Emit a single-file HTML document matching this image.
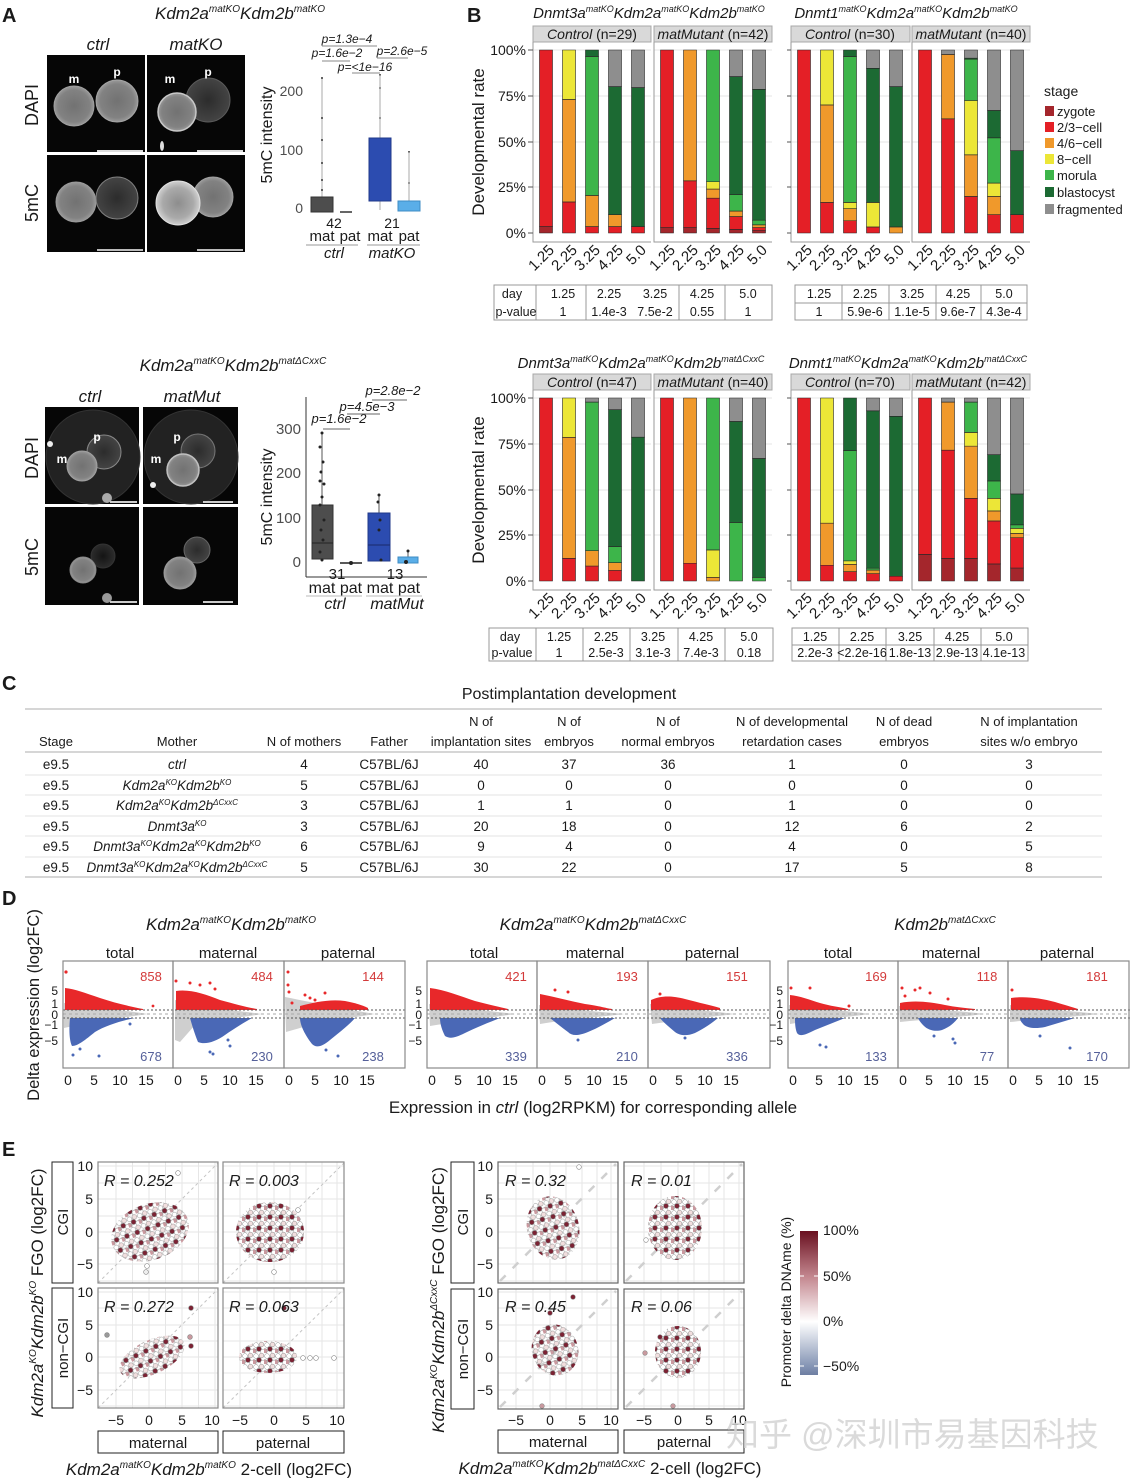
<!DOCTYPE html>
<html><head><meta charset="utf-8">
<style>
html,body{margin:0;padding:0;background:#fff}
svg{display:block}
text{font-family:"Liberation Sans",Arial,sans-serif;fill:#1a1a1a}
.it{font-style:italic}
.tk{fill:#4d4d4d}
.bars rect{stroke:#262626;stroke-width:0.6px;vector-effect:non-scaling-stroke}
.z{fill:#a4262c}.r{fill:#e41f26}.o{fill:#f0992b}.y{fill:#ece637}.lg{fill:#3db54a}.dg{fill:#1c6a33}.gr{fill:#8e8e8e}
.ln{stroke:#9a9a9a;stroke-width:1;fill:none}
.grid{stroke:#e6e6e6;stroke-width:1;fill:none}
.rc{fill:#e8282a}.bc{fill:#4a68b6}.gc{fill:#cfcfcf}
</style></head><body>
<svg width="1130" height="1478" viewBox="0 0 1130 1478" xmlns="http://www.w3.org/2000/svg">
<defs>
<radialGradient id="gMid"><stop offset="0" stop-color="#727272"/><stop offset=".8" stop-color="#828282"/><stop offset="1" stop-color="#9a9a9a"/></radialGradient>
<radialGradient id="gDim"><stop offset="0" stop-color="#2c2c2c"/><stop offset="1" stop-color="#444"/></radialGradient>
<radialGradient id="gBright"><stop offset="0" stop-color="#8d8d8d"/><stop offset=".7" stop-color="#aaa"/><stop offset="1" stop-color="#d0d0d0"/></radialGradient>
<radialGradient id="gFaint"><stop offset="0" stop-color="#141414"/><stop offset="1" stop-color="#2c2c2c"/></radialGradient>
<linearGradient id="cbar" x1="0" y1="0" x2="0" y2="1">
<stop offset="0" stop-color="#6a1020"/><stop offset=".32" stop-color="#c48890"/><stop offset=".63" stop-color="#ffffff"/><stop offset=".94" stop-color="#8494b4"/><stop offset="1" stop-color="#6e7ea2"/></linearGradient>
<pattern id="pE" width="11" height="11" patternUnits="userSpaceOnUse">
<circle cx="3" cy="3" r="2.4" fill="#fff" stroke="#8a8a8a" stroke-width=".5"/>
<circle cx="8.5" cy="2.5" r="2.4" fill="#f1dede" stroke="#8a8a8a" stroke-width=".5"/>
<circle cx="6" cy="7" r="2.4" fill="#7b2233" stroke="#666" stroke-width=".5"/>
<circle cx="1" cy="9" r="2.4" fill="#c9999f" stroke="#8a8a8a" stroke-width=".5"/>
<circle cx="10" cy="9.5" r="2.4" fill="#fff" stroke="#8a8a8a" stroke-width=".5"/>
</pattern>
</defs>

<!-- ================= PANEL A TOP ================= -->
<text x="2" y="22" font-size="20" font-weight="bold">A</text>
<text x="240" y="19" font-size="17" class="it" text-anchor="middle">Kdm2a<tspan font-size="10" dy="-7">matKO</tspan><tspan dy="7">Kdm2b</tspan><tspan font-size="10" dy="-7">matKO</tspan></text>
<text x="98" y="50" font-size="17" class="it" text-anchor="middle">ctrl</text>
<text x="196" y="50" font-size="17" class="it" text-anchor="middle">matKO</text>
<text transform="translate(38,105) rotate(-90)" font-size="18" text-anchor="middle">DAPI</text>
<text transform="translate(38,203) rotate(-90)" font-size="18" text-anchor="middle">5mC</text>
<rect x="47" y="55" width="98" height="97" fill="#060606"/>
<rect x="147" y="55" width="98" height="97" fill="#060606"/>
<rect x="47" y="155" width="98" height="97" fill="#060606"/>
<rect x="147" y="155" width="98" height="97" fill="#060606"/>
<circle cx="74" cy="106" r="20" fill="url(#gMid)" stroke="#a0a0a0"/>
<circle cx="117" cy="101" r="21" fill="url(#gMid)" stroke="#a5a5a5"/>
<circle cx="208" cy="100" r="22" fill="url(#gDim)" stroke="#5a5a5a"/>
<circle cx="177" cy="112" r="19" fill="url(#gMid)" stroke="#c8c8c8" stroke-width="1.5"/>
<ellipse cx="162" cy="146" rx="2" ry="5" fill="#ddd"/>
<text x="74" y="83" font-size="12" font-weight="bold" text-anchor="middle" style="fill:#fff">m</text>
<text x="117" y="76" font-size="12" font-weight="bold" text-anchor="middle" style="fill:#fff">p</text>
<text x="170" y="83" font-size="12" font-weight="bold" text-anchor="middle" style="fill:#fff">m</text>
<text x="208" y="76" font-size="12" font-weight="bold" text-anchor="middle" style="fill:#fff">p</text>
<circle cx="76" cy="202" r="20" fill="url(#gMid)" stroke="#9a9a9a"/>
<circle cx="117" cy="198" r="21" fill="url(#gDim)" stroke="#808080"/>
<circle cx="213" cy="197" r="20" fill="url(#gMid)" stroke="#a0a0a0"/>
<circle cx="178" cy="203" r="22" fill="url(#gBright)" stroke="#e0e0e0"/>
<line x1="97" y1="151" x2="143" y2="151" stroke="#ddd" stroke-width="2"/>
<line x1="197" y1="151" x2="243" y2="151" stroke="#ddd" stroke-width="2"/>
<line x1="97" y1="250" x2="143" y2="250" stroke="#bbb" stroke-width="2"/>
<line x1="197" y1="250" x2="243" y2="250" stroke="#bbb" stroke-width="2"/>

<!-- boxplot A top -->
<text transform="translate(272,135) rotate(-90)" font-size="16" text-anchor="middle">5mC intensity</text>
<text x="303" y="96" font-size="14" class="tk" text-anchor="end">200</text>
<text x="303" y="155" font-size="14" class="tk" text-anchor="end">100</text>
<text x="303" y="213" font-size="14" class="tk" text-anchor="end">0</text>
<line x1="322" y1="78" x2="322" y2="212" stroke="#aaa"/>
<g fill="#333"><circle cx="322" cy="78" r="1"/><circle cx="322" cy="118" r="1"/><circle cx="322" cy="140" r="1"/><circle cx="322" cy="163" r="1"/><circle cx="322" cy="180" r="1"/><circle cx="322" cy="190" r="1"/><circle cx="380" cy="75" r="1"/><circle cx="380" cy="88" r="1"/><circle cx="380" cy="118" r="1"/><circle cx="409" cy="152" r="1"/><circle cx="409" cy="183" r="1"/></g>
<rect x="311" y="197" width="22" height="15" fill="#4d4d4d" stroke="#333"/>
<line x1="340" y1="212" x2="352" y2="212" stroke="#333" stroke-width="1.5"/>
<line x1="380" y1="75" x2="380" y2="210" stroke="#aaa"/>
<rect x="369" y="138" width="22" height="63" fill="#2c4cb0" stroke="#213a8a"/>
<line x1="409" y1="152" x2="409" y2="211" stroke="#aaa"/>
<rect x="398" y="201" width="22" height="10" fill="#5aaee8" stroke="#3f8cc4"/>
<text x="334" y="228" font-size="14" text-anchor="middle">42</text>
<text x="392" y="228" font-size="14" text-anchor="middle">21</text>
<text x="322" y="241" font-size="15" text-anchor="middle">mat</text>
<text x="350" y="241" font-size="15" text-anchor="middle">pat</text>
<text x="380" y="241" font-size="15" text-anchor="middle">mat</text>
<text x="409" y="241" font-size="15" text-anchor="middle">pat</text>
<line x1="306" y1="245" x2="358" y2="245" stroke="#999"/>
<line x1="367" y1="245" x2="420" y2="245" stroke="#999"/>
<text x="334" y="258" font-size="15" class="it" text-anchor="middle">ctrl</text>
<text x="392" y="258" font-size="15" class="it" text-anchor="middle">matKO</text>
<text x="347" y="43" font-size="12" class="it" text-anchor="middle">p=1.3e−4</text>
<line x1="322" y1="46" x2="377" y2="46" stroke="#888"/>
<text x="337" y="57" font-size="12" class="it" text-anchor="middle">p=1.6e−2</text>
<line x1="322" y1="61" x2="350" y2="61" stroke="#888"/>
<text x="402" y="55" font-size="12" class="it" text-anchor="middle">p=2.6e−5</text>
<line x1="377" y1="58" x2="408" y2="58" stroke="#888"/>
<text x="365" y="71" font-size="12" class="it" text-anchor="middle">p=&lt;1e−16</text>
<line x1="352" y1="73" x2="380" y2="73" stroke="#888"/>

<!-- ================= PANEL A BOTTOM ================= -->
<text x="233" y="371" font-size="17" class="it" text-anchor="middle">Kdm2a<tspan font-size="10" dy="-7">matKO</tspan><tspan dy="7">Kdm2b</tspan><tspan font-size="10" dy="-7">matΔCxxC</tspan></text>
<text x="90" y="402" font-size="17" class="it" text-anchor="middle">ctrl</text>
<text x="192" y="402" font-size="17" class="it" text-anchor="middle">matMut</text>
<text transform="translate(38,458) rotate(-90)" font-size="18" text-anchor="middle">DAPI</text>
<text transform="translate(38,557) rotate(-90)" font-size="18" text-anchor="middle">5mC</text>
<rect x="45" y="407" width="94" height="97" fill="#060606"/>
<rect x="143" y="407" width="95" height="97" fill="#060606"/>
<rect x="45" y="507" width="94" height="98" fill="#060606"/>
<rect x="143" y="507" width="95" height="98" fill="#060606"/>
<circle cx="93" cy="457" r="47" fill="#222" stroke="#333"/>
<circle cx="191" cy="457" r="47" fill="#222" stroke="#333"/>
<circle cx="104" cy="452" r="17" fill="url(#gDim)" stroke="#8a8a8a"/>
<circle cx="82" cy="466" r="15" fill="url(#gMid)" stroke="#a0a0a0"/>
<circle cx="198" cy="451" r="17" fill="url(#gDim)" stroke="#777"/>
<circle cx="183" cy="470" r="16" fill="url(#gMid)" stroke="#c0c0c0" stroke-width="1.5"/>
<circle cx="50" cy="444" r="3" fill="#eee"/>
<circle cx="107" cy="498" r="5" fill="#aaa"/>
<circle cx="153" cy="485" r="3" fill="#eee"/>
<text x="62" y="463" font-size="12" font-weight="bold" text-anchor="middle" style="fill:#fff">m</text>
<text x="97" y="441" font-size="12" font-weight="bold" text-anchor="middle" style="fill:#fff">p</text>
<text x="156" y="463" font-size="12" font-weight="bold" text-anchor="middle" style="fill:#fff">m</text>
<text x="177" y="441" font-size="12" font-weight="bold" text-anchor="middle" style="fill:#fff">p</text>
<circle cx="103" cy="556" r="12" fill="url(#gFaint)" stroke="#333"/>
<circle cx="83" cy="570" r="13" fill="url(#gMid)" stroke="#888"/>
<circle cx="107" cy="598" r="5" fill="#999"/>
<circle cx="197" cy="550" r="13" fill="url(#gDim)" stroke="#666"/>
<circle cx="180" cy="573" r="16" fill="url(#gMid)" stroke="#999"/>
<line x1="110" y1="502" x2="137" y2="502" stroke="#ccc" stroke-width="2"/>
<line x1="203" y1="502" x2="233" y2="502" stroke="#ccc" stroke-width="2"/>
<line x1="110" y1="602" x2="137" y2="602" stroke="#ccc" stroke-width="2"/>
<line x1="203" y1="602" x2="233" y2="602" stroke="#ccc" stroke-width="2"/>

<!-- boxplot A bottom -->
<text transform="translate(272,497) rotate(-90)" font-size="16" text-anchor="middle">5mC intensity</text>
<line x1="306" y1="397" x2="306" y2="577" stroke="#333"/>
<line x1="306" y1="577" x2="427" y2="577" stroke="#333"/>
<text x="301" y="434" font-size="15" class="tk" text-anchor="end">300</text>
<text x="301" y="478" font-size="15" class="tk" text-anchor="end">200</text>
<text x="301" y="523" font-size="15" class="tk" text-anchor="end">100</text>
<text x="301" y="567" font-size="15" class="tk" text-anchor="end">0</text>
<line x1="322" y1="433" x2="322" y2="559" stroke="#555"/>
<rect x="312" y="505" width="21" height="54" fill="#4d4d4d" stroke="#333"/>
<line x1="312" y1="543" x2="333" y2="543" stroke="#222"/>
<line x1="340" y1="563" x2="362" y2="563" stroke="#222" stroke-width="1.5"/>
<line x1="379" y1="495" x2="379" y2="561" stroke="#555"/>
<rect x="368" y="513" width="22" height="48" fill="#2c4cb0" stroke="#213a8a"/>
<line x1="368" y1="545" x2="390" y2="545" stroke="#1a2a6a"/>
<line x1="408" y1="550" x2="408" y2="557" stroke="#555"/>
<rect x="398" y="557" width="20" height="6" fill="#5aaee8" stroke="#3f8cc4"/>
<g fill="#222"><circle cx="322" cy="433" r="1.5"/><circle cx="320" cy="447" r="1.5"/><circle cx="323" cy="462" r="1.5"/><circle cx="321" cy="472" r="1.5"/><circle cx="320" cy="481" r="1.5"/><circle cx="324" cy="484" r="1.5"/><circle cx="322" cy="497" r="1.5"/><circle cx="320" cy="505" r="1.5"/><circle cx="324" cy="520" r="1.5"/><circle cx="321" cy="530" r="1.5"/><circle cx="323" cy="540" r="1.5"/><circle cx="320" cy="552" r="1.5"/><circle cx="322" cy="560" r="1.5"/><circle cx="351" cy="563" r="2"/><circle cx="379" cy="495" r="1.5"/><circle cx="378" cy="502" r="1.5"/><circle cx="380" cy="520" r="1.5"/><circle cx="379" cy="530" r="1.5"/><circle cx="381" cy="560" r="1.5"/><circle cx="408" cy="551" r="1.5"/><circle cx="406" cy="562" r="2"/></g>
<text x="337" y="579" font-size="15" text-anchor="middle">31</text>
<text x="395" y="579" font-size="15" text-anchor="middle">13</text>
<text x="322" y="593" font-size="16" text-anchor="middle">mat</text>
<text x="351" y="593" font-size="16" text-anchor="middle">pat</text>
<text x="380" y="593" font-size="16" text-anchor="middle">mat</text>
<text x="409" y="593" font-size="16" text-anchor="middle">pat</text>
<line x1="306" y1="596" x2="362" y2="596" stroke="#bbb"/>
<line x1="366" y1="596" x2="422" y2="596" stroke="#bbb"/>
<text x="335" y="609" font-size="16" class="it" text-anchor="middle">ctrl</text>
<text x="397" y="609" font-size="16" class="it" text-anchor="middle">matMut</text>
<text x="339" y="423" font-size="13" class="it" text-anchor="middle">p=1.6e−2</text>
<line x1="323" y1="429" x2="350" y2="429" stroke="#666"/>
<text x="367" y="411" font-size="13" class="it" text-anchor="middle">p=4.5e−3</text>
<line x1="347" y1="414" x2="380" y2="414" stroke="#666"/>
<text x="393" y="395" font-size="13" class="it" text-anchor="middle">p=2.8e−2</text>
<line x1="372" y1="400" x2="407" y2="400" stroke="#666"/>

<!-- ================= PANEL B TOP ================= -->
<text x="467" y="22" font-size="20" font-weight="bold">B</text>
<text x="649" y="18" font-size="15" class="it" text-anchor="middle">Dnmt3a<tspan font-size="9" dy="-6">matKO</tspan><tspan dy="6">Kdm2a</tspan><tspan font-size="9" dy="-6">matKO</tspan><tspan dy="6">Kdm2b</tspan><tspan font-size="9" dy="-6">matKO</tspan></text>
<text x="906" y="18" font-size="15" class="it" text-anchor="middle">Dnmt1<tspan font-size="9" dy="-6">matKO</tspan><tspan dy="6">Kdm2a</tspan><tspan font-size="9" dy="-6">matKO</tspan><tspan dy="6">Kdm2b</tspan><tspan font-size="9" dy="-6">matKO</tspan></text>
<g fill="#d9d9d9" stroke="#a8a8a8">
<rect x="533" y="26" width="118" height="16"/><rect x="654" y="26" width="118" height="16"/>
<rect x="791" y="26" width="119" height="16"/><rect x="912" y="26" width="118" height="16"/>
</g>
<g font-size="14" text-anchor="middle">
<text x="592" y="39"><tspan class="it">Control</tspan> (n=29)</text>
<text x="713" y="39"><tspan class="it">matMutant</tspan> (n=42)</text>
<text x="850" y="39"><tspan class="it">Control</tspan> (n=30)</text>
<text x="971" y="39"><tspan class="it">matMutant</tspan> (n=40)</text>
</g>
<g class="grid">
<path d="M533 50H651M533 96H651M533 142H651M533 187H651M654 50H772M654 96H772M654 142H772M654 187H772M791 50H910M791 96H910M791 142H910M791 187H910M912 50H1030M912 96H1030M912 142H1030M912 187H1030"/>
</g>
<path class="ln" d="M533 42V242H651M654 42V242H772M791 42V242H910M912 42V242H1030"/>
<path d="M528 50H533M528 96H533M528 142H533M528 187H533M528 233H533M787 50H791M787 96H791M787 142H791M787 187H791M787 233H791" stroke="#555"/>
<g font-size="14" class="tk" text-anchor="end">
<text x="526" y="55">100%</text><text x="526" y="101">75%</text><text x="526" y="147">50%</text><text x="526" y="192">25%</text><text x="526" y="238">0%</text>
</g>
<text transform="translate(484,142) rotate(-90)" font-size="17" text-anchor="middle">Developmental rate</text>

<g class="bars" transform="translate(0,233) scale(1,-1.83)">
<rect class="z" x="539.5" y="0" width="13" height="3.5"/><rect class="r" x="539.5" y="3.5" width="13" height="96.5"/>
<rect class="r" x="562.5" y="0" width="13" height="17"/><rect class="o" x="562.5" y="17" width="13" height="56"/><rect class="y" x="562.5" y="73" width="13" height="27"/>
<rect class="r" x="585.5" y="0" width="13" height="3.5"/><rect class="o" x="585.5" y="3.5" width="13" height="17"/><rect class="lg" x="585.5" y="20.5" width="13" height="76"/><rect class="dg" x="585.5" y="96.5" width="13" height="3.5"/>
<rect class="r" x="608.5" y="0" width="13" height="3.5"/><rect class="o" x="608.5" y="3.5" width="13" height="6.5"/><rect class="dg" x="608.5" y="10" width="13" height="70"/><rect class="gr" x="608.5" y="80" width="13" height="20"/>
<rect class="r" x="631.5" y="0" width="13" height="3.5"/><rect class="dg" x="631.5" y="3.5" width="13" height="76"/><rect class="gr" x="631.5" y="79.5" width="13" height="20.5"/>
<rect class="z" x="660.5" y="0" width="13" height="3"/><rect class="r" x="660.5" y="3" width="13" height="97"/>
<rect class="z" x="683.5" y="0" width="13" height="3"/><rect class="r" x="683.5" y="3" width="13" height="25.5"/><rect class="o" x="683.5" y="28.5" width="13" height="71.5"/>
<rect class="z" x="706.5" y="0" width="13" height="2.5"/><rect class="r" x="706.5" y="2.5" width="13" height="16.5"/><rect class="o" x="706.5" y="19" width="13" height="5"/><rect class="y" x="706.5" y="24" width="13" height="4"/><rect class="lg" x="706.5" y="28" width="13" height="72"/>
<rect class="z" x="729.5" y="0" width="13" height="2"/><rect class="r" x="729.5" y="2" width="13" height="7"/><rect class="o" x="729.5" y="9" width="13" height="3"/><rect class="lg" x="729.5" y="12" width="13" height="9"/><rect class="dg" x="729.5" y="21" width="13" height="64.5"/><rect class="gr" x="729.5" y="85.5" width="13" height="14.5"/>
<rect class="z" x="752.5" y="0" width="13" height="1.5"/><rect class="r" x="752.5" y="1.5" width="13" height="1.5"/><rect class="o" x="752.5" y="3" width="13" height="1.5"/><rect class="lg" x="752.5" y="4.5" width="13" height="2.5"/><rect class="dg" x="752.5" y="7" width="13" height="71.5"/><rect class="gr" x="752.5" y="78.5" width="13" height="21.5"/>
<rect class="r" x="797.5" y="0" width="13" height="100"/>
<rect class="r" x="820.5" y="0" width="13" height="16.7"/><rect class="o" x="820.5" y="16.7" width="13" height="53.3"/><rect class="y" x="820.5" y="70" width="13" height="30"/>
<rect class="r" x="843.5" y="0" width="13" height="6.7"/><rect class="o" x="843.5" y="6.7" width="13" height="6.6"/><rect class="y" x="843.5" y="13.3" width="13" height="3.4"/><rect class="lg" x="843.5" y="16.7" width="13" height="79.7"/><rect class="dg" x="843.5" y="96.4" width="13" height="3.6"/>
<rect class="r" x="866.5" y="0" width="13" height="3.3"/><rect class="y" x="866.5" y="3.3" width="13" height="13.4"/><rect class="dg" x="866.5" y="16.7" width="13" height="73.3"/><rect class="gr" x="866.5" y="90" width="13" height="10"/>
<rect class="o" x="889.5" y="0" width="13" height="3.3"/><rect class="dg" x="889.5" y="3.3" width="13" height="76.7"/><rect class="gr" x="889.5" y="80" width="13" height="20"/>
<rect class="r" x="918.5" y="0" width="13" height="100"/>
<rect class="r" x="941.5" y="0" width="13" height="62.4"/><rect class="o" x="941.5" y="62.4" width="13" height="35.2"/><rect class="gr" x="941.5" y="97.6" width="13" height="2.4"/>
<rect class="r" x="964.5" y="0" width="13" height="20"/><rect class="o" x="964.5" y="20" width="13" height="22.7"/><rect class="y" x="964.5" y="42.7" width="13" height="29.7"/><rect class="lg" x="964.5" y="72.4" width="13" height="22.6"/><rect class="dg" x="964.5" y="95" width="13" height="0.5"/><rect class="gr" x="964.5" y="95.5" width="13" height="4.5"/>
<rect class="r" x="987.5" y="0" width="13" height="10"/><rect class="o" x="987.5" y="10" width="13" height="10"/><rect class="y" x="987.5" y="20" width="13" height="7.3"/><rect class="lg" x="987.5" y="27.3" width="13" height="24.7"/><rect class="dg" x="987.5" y="52" width="13" height="15"/><rect class="gr" x="987.5" y="67" width="13" height="33"/>
<rect class="r" x="1010.5" y="0" width="13" height="10"/><rect class="dg" x="1010.5" y="10" width="13" height="35"/><rect class="gr" x="1010.5" y="45" width="13" height="55"/>
</g>
<g font-size="15" class="tk" text-anchor="end">
<text transform="translate(555,251) rotate(-45)">1.25</text><text transform="translate(578,251) rotate(-45)">2.25</text><text transform="translate(601,251) rotate(-45)">3.25</text><text transform="translate(624,251) rotate(-45)">4.25</text><text transform="translate(647,251) rotate(-45)">5.0</text>
<text transform="translate(676,251) rotate(-45)">1.25</text><text transform="translate(699,251) rotate(-45)">2.25</text><text transform="translate(722,251) rotate(-45)">3.25</text><text transform="translate(745,251) rotate(-45)">4.25</text><text transform="translate(768,251) rotate(-45)">5.0</text>
<text transform="translate(813,251) rotate(-45)">1.25</text><text transform="translate(836,251) rotate(-45)">2.25</text><text transform="translate(859,251) rotate(-45)">3.25</text><text transform="translate(882,251) rotate(-45)">4.25</text><text transform="translate(905,251) rotate(-45)">5.0</text>
<text transform="translate(934,251) rotate(-45)">1.25</text><text transform="translate(957,251) rotate(-45)">2.25</text><text transform="translate(980,251) rotate(-45)">3.25</text><text transform="translate(1003,251) rotate(-45)">4.25</text><text transform="translate(1026,251) rotate(-45)">5.0</text>
</g>
<rect x="494" y="285" width="278" height="35" fill="none" stroke="#999"/>
<path d="M536 285V320M586 285V320M679 285V320M725 285V320" stroke="#999"/>
<g font-size="12.5" text-anchor="middle">
<text x="512" y="298">day</text><text x="563" y="298">1.25</text><text x="609" y="298">2.25</text><text x="655" y="298">3.25</text><text x="702" y="298">4.25</text><text x="748" y="298">5.0</text>
<text x="516" y="316">p-value</text><text x="563" y="316">1</text><text x="609" y="316">1.4e-3</text><text x="655" y="316">7.5e-2</text><text x="702" y="316">0.55</text><text x="748" y="316">1</text>
</g>
<rect x="795" y="285" width="232" height="35" fill="none" stroke="#999"/>
<path d="M842 285V320M889 285V320M936 285V320M981 285V320M795 303H1027" stroke="#999"/>
<g font-size="12.5" text-anchor="middle">
<text x="819" y="298">1.25</text><text x="865" y="298">2.25</text><text x="912" y="298">3.25</text><text x="958" y="298">4.25</text><text x="1004" y="298">5.0</text>
<text x="819" y="316">1</text><text x="865" y="316">5.9e-6</text><text x="912" y="316">1.1e-5</text><text x="958" y="316">9.6e-7</text><text x="1004" y="316">4.3e-4</text>
</g>
<text x="1044" y="96" font-size="14">stage</text>
<rect class="z" x="1045" y="106" width="9" height="10"/><rect class="r" x="1045" y="122" width="9" height="10"/><rect class="o" x="1045" y="138" width="9" height="10"/><rect class="y" x="1045" y="154" width="9" height="10"/><rect class="lg" x="1045" y="170" width="9" height="10"/><rect class="dg" x="1045" y="187" width="9" height="10"/><rect class="gr" x="1045" y="204" width="9" height="10"/>
<g font-size="13">
<text x="1057" y="116">zygote</text><text x="1057" y="132">2/3−cell</text><text x="1057" y="148">4/6−cell</text><text x="1057" y="164">8−cell</text><text x="1057" y="180">morula</text><text x="1057" y="197">blastocyst</text><text x="1057" y="214">fragmented</text>
</g>

<!-- ================= PANEL B BOTTOM ================= -->
<text x="641" y="368" font-size="15" class="it" text-anchor="middle">Dnmt3a<tspan font-size="9" dy="-6">matKO</tspan><tspan dy="6">Kdm2a</tspan><tspan font-size="9" dy="-6">matKO</tspan><tspan dy="6">Kdm2b</tspan><tspan font-size="9" dy="-6">matΔCxxC</tspan></text>
<text x="908" y="368" font-size="15" class="it" text-anchor="middle">Dnmt1<tspan font-size="9" dy="-6">matKO</tspan><tspan dy="6">Kdm2a</tspan><tspan font-size="9" dy="-6">matKO</tspan><tspan dy="6">Kdm2b</tspan><tspan font-size="9" dy="-6">matΔCxxC</tspan></text>
<g fill="#d9d9d9" stroke="#a8a8a8">
<rect x="533" y="374" width="118" height="16"/><rect x="654" y="374" width="118" height="16"/>
<rect x="791" y="374" width="119" height="16"/><rect x="912" y="374" width="118" height="16"/>
</g>
<g font-size="14" text-anchor="middle">
<text x="592" y="387"><tspan class="it">Control</tspan> (n=47)</text>
<text x="713" y="387"><tspan class="it">matMutant</tspan> (n=40)</text>
<text x="850" y="387"><tspan class="it">Control</tspan> (n=70)</text>
<text x="971" y="387"><tspan class="it">matMutant</tspan> (n=42)</text>
</g>
<g class="grid">
<path d="M533 398H651M533 444H651M533 490H651M533 535H651M654 398H772M654 444H772M654 490H772M654 535H772M791 398H910M791 444H910M791 490H910M791 535H910M912 398H1030M912 444H1030M912 490H1030M912 535H1030"/>
</g>
<path class="ln" d="M533 390V590H651M654 390V590H772M791 390V590H910M912 390V590H1030"/>
<path d="M528 398H533M528 444H533M528 490H533M528 535H533M528 581H533M787 398H791M787 444H791M787 490H791M787 535H791M787 581H791" stroke="#555"/>
<g font-size="14" class="tk" text-anchor="end">
<text x="526" y="403">100%</text><text x="526" y="449">75%</text><text x="526" y="495">50%</text><text x="526" y="540">25%</text><text x="526" y="586">0%</text>
</g>
<text transform="translate(484,490) rotate(-90)" font-size="17" text-anchor="middle">Developmental rate</text>

<g class="bars" transform="translate(0,581) scale(1,-1.83)">
<rect class="r" x="539.5" y="0" width="13" height="100"/>
<rect class="r" x="562.5" y="0" width="13" height="12.4"/><rect class="o" x="562.5" y="12.4" width="13" height="66.1"/><rect class="y" x="562.5" y="78.5" width="13" height="21.5"/>
<rect class="r" x="585.5" y="0" width="13" height="8.2"/><rect class="o" x="585.5" y="8.2" width="13" height="8.4"/><rect class="lg" x="585.5" y="16.6" width="13" height="81.2"/><rect class="gr" x="585.5" y="97.8" width="13" height="2.2"/>
<rect class="r" x="608.5" y="0" width="13" height="5.8"/><rect class="o" x="608.5" y="5.8" width="13" height="4.2"/><rect class="lg" x="608.5" y="10" width="13" height="8.8"/><rect class="dg" x="608.5" y="18.8" width="13" height="74.8"/><rect class="gr" x="608.5" y="93.6" width="13" height="6.4"/>
<rect class="dg" x="631.5" y="0" width="13" height="78.6"/><rect class="gr" x="631.5" y="78.6" width="13" height="21.4"/>
<rect class="r" x="660.5" y="0" width="13" height="100"/>
<rect class="r" x="683.5" y="0" width="13" height="9.7"/><rect class="o" x="683.5" y="9.7" width="13" height="90.3"/>
<rect class="o" x="706.5" y="0" width="13" height="2"/><rect class="y" x="706.5" y="2" width="13" height="15"/><rect class="lg" x="706.5" y="17" width="13" height="83"/>
<rect class="lg" x="729.5" y="0" width="13" height="32"/><rect class="dg" x="729.5" y="32" width="13" height="55.2"/><rect class="gr" x="729.5" y="87.2" width="13" height="12.8"/>
<rect class="lg" x="752.5" y="0" width="13" height="2"/><rect class="dg" x="752.5" y="2" width="13" height="65"/><rect class="gr" x="752.5" y="67" width="13" height="33"/>
<rect class="r" x="797.5" y="0" width="13" height="100"/>
<rect class="r" x="820.5" y="0" width="13" height="8.6"/><rect class="o" x="820.5" y="8.6" width="13" height="23"/><rect class="y" x="820.5" y="31.6" width="13" height="68.4"/>
<rect class="r" x="843.5" y="0" width="13" height="5.1"/><rect class="o" x="843.5" y="5.1" width="13" height="4"/><rect class="y" x="843.5" y="9.1" width="13" height="1.9"/><rect class="lg" x="843.5" y="11" width="13" height="60.2"/><rect class="dg" x="843.5" y="71.2" width="13" height="28.8"/>
<rect class="r" x="866.5" y="0" width="13" height="4"/><rect class="o" x="866.5" y="4" width="13" height="2"/><rect class="lg" x="866.5" y="6" width="13" height="1"/><rect class="dg" x="866.5" y="7" width="13" height="86"/><rect class="gr" x="866.5" y="93" width="13" height="7"/>
<rect class="r" x="889.5" y="0" width="13" height="2.6"/><rect class="dg" x="889.5" y="2.6" width="13" height="87.4"/><rect class="gr" x="889.5" y="90" width="13" height="10"/>
<rect class="z" x="918.5" y="0" width="13" height="14.6"/><rect class="r" x="918.5" y="14.6" width="13" height="85.4"/>
<rect class="z" x="941.5" y="0" width="13" height="12.4"/><rect class="r" x="941.5" y="12.4" width="13" height="59.1"/><rect class="o" x="941.5" y="71.5" width="13" height="26.3"/><rect class="gr" x="941.5" y="97.8" width="13" height="2.2"/>
<rect class="z" x="964.5" y="0" width="13" height="12.4"/><rect class="r" x="964.5" y="12.4" width="13" height="32.8"/><rect class="o" x="964.5" y="45.2" width="13" height="28.5"/><rect class="y" x="964.5" y="73.7" width="13" height="7.5"/><rect class="lg" x="964.5" y="81.2" width="13" height="16.6"/><rect class="gr" x="964.5" y="97.8" width="13" height="2.2"/>
<rect class="z" x="987.5" y="0" width="13" height="9.3"/><rect class="r" x="987.5" y="9.3" width="13" height="23.5"/><rect class="o" x="987.5" y="32.8" width="13" height="5.5"/><rect class="y" x="987.5" y="38.3" width="13" height="6.9"/><rect class="lg" x="987.5" y="45.2" width="13" height="9.5"/><rect class="dg" x="987.5" y="54.7" width="13" height="14.3"/><rect class="gr" x="987.5" y="69" width="13" height="31"/>
<rect class="z" x="1010.5" y="0" width="13" height="7.1"/><rect class="r" x="1010.5" y="7.1" width="13" height="16.6"/><rect class="o" x="1010.5" y="23.7" width="13" height="2.3"/><rect class="y" x="1010.5" y="26" width="13" height="2.8"/><rect class="lg" x="1010.5" y="28.8" width="13" height="1.9"/><rect class="dg" x="1010.5" y="30.7" width="13" height="16.9"/><rect class="gr" x="1010.5" y="47.6" width="13" height="52.4"/>
</g>
<g font-size="15" class="tk" text-anchor="end">
<text transform="translate(555,599) rotate(-45)">1.25</text><text transform="translate(578,599) rotate(-45)">2.25</text><text transform="translate(601,599) rotate(-45)">3.25</text><text transform="translate(624,599) rotate(-45)">4.25</text><text transform="translate(647,599) rotate(-45)">5.0</text>
<text transform="translate(676,599) rotate(-45)">1.25</text><text transform="translate(699,599) rotate(-45)">2.25</text><text transform="translate(722,599) rotate(-45)">3.25</text><text transform="translate(745,599) rotate(-45)">4.25</text><text transform="translate(768,599) rotate(-45)">5.0</text>
<text transform="translate(813,599) rotate(-45)">1.25</text><text transform="translate(836,599) rotate(-45)">2.25</text><text transform="translate(859,599) rotate(-45)">3.25</text><text transform="translate(882,599) rotate(-45)">4.25</text><text transform="translate(905,599) rotate(-45)">5.0</text>
<text transform="translate(934,599) rotate(-45)">1.25</text><text transform="translate(957,599) rotate(-45)">2.25</text><text transform="translate(980,599) rotate(-45)">3.25</text><text transform="translate(1003,599) rotate(-45)">4.25</text><text transform="translate(1026,599) rotate(-45)">5.0</text>
</g>
<rect x="489" y="628" width="284" height="33" fill="none" stroke="#999"/>
<path d="M536 628V661M583 628V661M630 628V661M678 628V661M725 628V661" stroke="#999"/>
<g font-size="12.5" text-anchor="middle">
<text x="510" y="641">day</text><text x="559" y="641">1.25</text><text x="606" y="641">2.25</text><text x="653" y="641">3.25</text><text x="701" y="641">4.25</text><text x="749" y="641">5.0</text>
<text x="512" y="657">p-value</text><text x="559" y="657">1</text><text x="606" y="657">2.5e-3</text><text x="653" y="657">3.1e-3</text><text x="701" y="657">7.4e-3</text><text x="749" y="657">0.18</text>
</g>
<rect x="792" y="628" width="236" height="33" fill="none" stroke="#999"/>
<path d="M839 628V661M886 628V661M934 628V661M981 628V661M792 645H1028" stroke="#999"/>
<g font-size="12.5" text-anchor="middle">
<text x="815" y="641">1.25</text><text x="862" y="641">2.25</text><text x="910" y="641">3.25</text><text x="957" y="641">4.25</text><text x="1004" y="641">5.0</text>
<text x="815" y="657">2.2e-3</text><text x="862" y="657">&lt;2.2e-16</text><text x="910" y="657">1.8e-13</text><text x="957" y="657">2.9e-13</text><text x="1004" y="657">4.1e-13</text>
</g>

<!-- ================= PANEL C ================= -->
<text x="2" y="690" font-size="20" font-weight="bold">C</text>
<text x="569" y="699" font-size="16" text-anchor="middle">Postimplantation development</text>
<path d="M25 709H1102M25 752H1102M25 877H1102" stroke="#c8c8c8" stroke-width="1.5"/>
<path d="M25 775H1102M25 795H1102M25 816H1102M25 836H1102M25 857H1102" stroke="#e3e3e3"/>
<g font-size="13" text-anchor="middle" style="fill:#333">
<text x="56" y="746">Stage</text><text x="177" y="746">Mother</text><text x="304" y="746">N of mothers</text><text x="389" y="746">Father</text>
<text x="481" y="726">N of</text><text x="481" y="746">implantation sites</text>
<text x="569" y="726">N of</text><text x="569" y="746">embryos</text>
<text x="668" y="726">N of</text><text x="668" y="746">normal embryos</text>
<text x="792" y="726">N of developmental</text><text x="792" y="746">retardation cases</text>
<text x="904" y="726">N of dead</text><text x="904" y="746">embryos</text>
<text x="1029" y="726">N of implantation</text><text x="1029" y="746">sites w/o embryo</text>
</g>
<g font-size="13.5" text-anchor="middle">
<text x="56" y="769">e9.5</text><text x="56" y="790">e9.5</text><text x="56" y="810">e9.5</text><text x="56" y="831">e9.5</text><text x="56" y="851">e9.5</text><text x="56" y="872">e9.5</text>
<text x="177" y="769" class="it">ctrl</text>
<text x="177" y="790" class="it">Kdm2a<tspan font-size="8" dy="-5">KO</tspan><tspan dy="5">Kdm2b</tspan><tspan font-size="8" dy="-5">KO</tspan></text>
<text x="177" y="810" class="it">Kdm2a<tspan font-size="8" dy="-5">KO</tspan><tspan dy="5">Kdm2b</tspan><tspan font-size="8" dy="-5">ΔCxxC</tspan></text>
<text x="177" y="831" class="it">Dnmt3a<tspan font-size="8" dy="-5">KO</tspan></text>
<text x="177" y="851" class="it">Dnmt3a<tspan font-size="8" dy="-5">KO</tspan><tspan dy="5">Kdm2a</tspan><tspan font-size="8" dy="-5">KO</tspan><tspan dy="5">Kdm2b</tspan><tspan font-size="8" dy="-5">KO</tspan></text>
<text x="177" y="872" class="it">Dnmt3a<tspan font-size="8" dy="-5">KO</tspan><tspan dy="5">Kdm2a</tspan><tspan font-size="8" dy="-5">KO</tspan><tspan dy="5">Kdm2b</tspan><tspan font-size="8" dy="-5">ΔCxxC</tspan></text>
<text x="304" y="769">4</text><text x="304" y="790">5</text><text x="304" y="810">3</text><text x="304" y="831">3</text><text x="304" y="851">6</text><text x="304" y="872">5</text>
<text x="389" y="769">C57BL/6J</text><text x="389" y="790">C57BL/6J</text><text x="389" y="810">C57BL/6J</text><text x="389" y="831">C57BL/6J</text><text x="389" y="851">C57BL/6J</text><text x="389" y="872">C57BL/6J</text>
<text x="481" y="769">40</text><text x="481" y="790">0</text><text x="481" y="810">1</text><text x="481" y="831">20</text><text x="481" y="851">9</text><text x="481" y="872">30</text>
<text x="569" y="769">37</text><text x="569" y="790">0</text><text x="569" y="810">1</text><text x="569" y="831">18</text><text x="569" y="851">4</text><text x="569" y="872">22</text>
<text x="668" y="769">36</text><text x="668" y="790">0</text><text x="668" y="810">0</text><text x="668" y="831">0</text><text x="668" y="851">0</text><text x="668" y="872">0</text>
<text x="792" y="769">1</text><text x="792" y="790">0</text><text x="792" y="810">1</text><text x="792" y="831">12</text><text x="792" y="851">4</text><text x="792" y="872">17</text>
<text x="904" y="769">0</text><text x="904" y="790">0</text><text x="904" y="810">0</text><text x="904" y="831">6</text><text x="904" y="851">0</text><text x="904" y="872">5</text>
<text x="1029" y="769">3</text><text x="1029" y="790">0</text><text x="1029" y="810">0</text><text x="1029" y="831">2</text><text x="1029" y="851">5</text><text x="1029" y="872">8</text>
</g>

<!-- ================= PANEL D ================= -->
<text x="2" y="905" font-size="20" font-weight="bold">D</text>
<text transform="translate(39,1005) rotate(-90)" font-size="16.5" text-anchor="middle">Delta expression (log2FC)</text>
<text x="231" y="930" font-size="17" class="it" text-anchor="middle">Kdm2a<tspan font-size="10" dy="-7">matKO</tspan><tspan dy="7">Kdm2b</tspan><tspan font-size="10" dy="-7">matKO</tspan></text>
<text x="593" y="930" font-size="17" class="it" text-anchor="middle">Kdm2a<tspan font-size="10" dy="-7">matKO</tspan><tspan dy="7">Kdm2b</tspan><tspan font-size="10" dy="-7">matΔCxxC</tspan></text>
<text x="945" y="930" font-size="17" class="it" text-anchor="middle">Kdm2b<tspan font-size="10" dy="-7">matΔCxxC</tspan></text>
<g font-size="15" text-anchor="middle">
<text x="120" y="958">total</text><text x="228" y="958">maternal</text><text x="348" y="958">paternal</text>
<text x="484" y="958">total</text><text x="595" y="958">maternal</text><text x="712" y="958">paternal</text>
<text x="838" y="958">total</text><text x="951" y="958">maternal</text><text x="1067" y="958">paternal</text>
</g>
<g class="gc">
<path d="M64 1003C90 1006 120 1010 148 1014C120 1018 90 1022 64 1028Z"/>
<path d="M175 1000C210 1008 240 1011 262 1014C240 1018 210 1020 195 1025L180 1042L175 1040Z"/>
<path d="M285 997C320 1004 350 1010 375 1014C350 1018 320 1022 300 1028L286 1032Z"/>
<path d="M429 1004C460 1008 490 1011 515 1014C490 1018 460 1021 430 1026Z"/>
<path d="M539 1005C570 1009 600 1012 625 1014C600 1017 570 1019 540 1024Z"/>
<path d="M650 1004C680 1008 710 1011 735 1014C710 1017 680 1020 652 1024Z"/>
<path d="M789 1005C820 1009 850 1011 870 1014C850 1017 820 1019 790 1024Z"/>
<path d="M899 1006C930 1009 960 1011 985 1014C960 1017 930 1019 900 1022Z"/>
<path d="M1010 1005C1040 1009 1070 1011 1100 1014C1070 1017 1040 1019 1010 1022Z"/>
</g>
<g class="rc">
<path d="M65 1010L65 988C75 989 85 993 100 998C115 1003 128 1006 143 1009L143 1010Z"/>
<path d="M176 1010L176 991C190 989 205 994 220 1000C235 1004 245 1007 257 1009L257 1010Z"/>
<path d="M300 1010L300 1006C315 1002 330 999 345 1001C355 1003 362 1005 368 1008L368 1010Z"/>
<path d="M430 1010L430 988C445 990 460 996 475 1001C490 1005 500 1007 508 1009L508 1010Z"/>
<path d="M540 1010L540 994C555 997 570 1001 585 1004C600 1006 605 1008 612 1009L612 1010Z"/>
<path d="M651 1010L651 1000C660 996 670 995 685 999C700 1003 710 1005 720 1008L720 1010Z"/>
<path d="M790 1010L790 995C800 996 810 1000 820 1003C830 1006 840 1007 848 1009L848 1010Z"/>
<path d="M900 1010L900 1003C915 1000 930 1002 945 1005C955 1007 965 1008 975 1009L975 1010Z"/>
<path d="M1011 1010L1011 998C1025 996 1040 998 1055 1002C1065 1005 1072 1007 1078 1009L1078 1010Z"/>
<circle cx="66" cy="972" r="1.6"/><circle cx="153" cy="1006" r="1.4"/>
<circle cx="176" cy="981" r="1.5"/><circle cx="190" cy="983" r="1.5"/><circle cx="200" cy="985" r="1.5"/><circle cx="210" cy="983" r="1.5"/><circle cx="215" cy="989" r="1.5"/>
<circle cx="288" cy="972" r="1.5"/><circle cx="288" cy="985" r="1.5"/><circle cx="289" cy="992" r="1.5"/><circle cx="305" cy="995" r="1.5"/><circle cx="310" cy="998" r="1.5"/><circle cx="325" cy="993" r="1.5"/><circle cx="315" cy="1000" r="1.5"/><circle cx="292" cy="1003" r="1.5"/>
<circle cx="555" cy="990" r="1.5"/><circle cx="568" cy="992" r="1.5"/><circle cx="660" cy="994" r="1.5"/>
<circle cx="791" cy="988" r="1.5"/><circle cx="810" cy="988" r="1.5"/><circle cx="849" cy="1006" r="1.5"/>
<circle cx="902" cy="988" r="1.5"/><circle cx="915" cy="990" r="1.5"/><circle cx="920" cy="988" r="1.5"/><circle cx="930" cy="993" r="1.5"/><circle cx="905" cy="996" r="1.5"/><circle cx="948" cy="999" r="1.5"/>
<circle cx="1012" cy="990" r="1.5"/>
</g>
<g class="bc">
<path d="M70 1018L135 1018C120 1021 105 1026 95 1032C85 1040 78 1046 72 1046C69 1040 69 1028 70 1018Z"/>
<path d="M190 1018L252 1018C245 1022 235 1028 225 1035C215 1042 205 1045 198 1042C195 1035 192 1025 190 1018Z"/>
<path d="M300 1018L355 1018C350 1024 340 1032 330 1040C322 1047 316 1048 312 1044C305 1035 300 1025 300 1018Z"/>
<path d="M440 1018L500 1018C490 1022 475 1028 465 1033C455 1038 450 1039 445 1036C442 1030 440 1024 440 1018Z"/>
<path d="M550 1018L615 1018C608 1022 598 1028 588 1032C578 1036 572 1036 568 1032C560 1026 555 1022 550 1018Z"/>
<path d="M660 1018L718 1018C712 1023 705 1028 695 1033C688 1036 680 1036 675 1032C668 1026 663 1022 660 1018Z"/>
<path d="M795 1018L845 1018C835 1022 825 1026 815 1030C805 1035 800 1037 797 1033C795 1028 795 1022 795 1018Z"/>
<path d="M918 1018L958 1018C955 1022 950 1027 942 1030C935 1032 928 1030 924 1026C920 1022 919 1020 918 1018Z"/>
<path d="M1020 1018L1075 1018C1065 1021 1055 1024 1045 1027C1035 1029 1028 1028 1024 1025C1021 1022 1020 1020 1020 1018Z"/>
<circle cx="73" cy="1055" r="1.5"/><circle cx="99" cy="1056" r="1.5"/><circle cx="80" cy="1049" r="1.5"/><circle cx="130" cy="1024" r="1.5"/>
<circle cx="210" cy="1052" r="1.5"/><circle cx="213" cy="1054" r="1.5"/><circle cx="230" cy="1046" r="1.5"/><circle cx="228" cy="1040" r="1.5"/>
<circle cx="338" cy="1056" r="1.5"/><circle cx="326" cy="1050" r="1.5"/>
<circle cx="578" cy="1040" r="1.5"/><circle cx="685" cy="1038" r="1.5"/>
<circle cx="820" cy="1045" r="1.5"/><circle cx="826" cy="1047" r="1.5"/>
<circle cx="953" cy="1039" r="1.5"/><circle cx="955" cy="1043" r="1.5"/><circle cx="934" cy="1036" r="1.5"/>
<circle cx="1040" cy="1036" r="1.5"/><circle cx="1070" cy="1048" r="1.5"/>
</g>
<g stroke="#555" stroke-dasharray="2,2" stroke-width="1">
<path d="M63 1010H405M63 1018H405M427 1010H770M427 1018H770M788 1010H1130M788 1018H1130"/>
</g>
<path d="M63 1014H405M427 1014H770M788 1014H1130" stroke="#aaa" stroke-dasharray="3,3"/>
<g fill="none" stroke="#8a8a8a" stroke-width="1.2">
<rect x="63" y="961" width="110" height="107"/><rect x="173" y="961" width="111" height="107"/><rect x="284" y="961" width="121" height="107"/>
<rect x="427" y="961" width="110" height="107"/><rect x="537" y="961" width="111" height="107"/><rect x="648" y="961" width="122" height="107"/>
<rect x="788" y="961" width="110" height="107"/><rect x="898" y="961" width="110" height="107"/><rect x="1008" y="961" width="121" height="107"/>
</g>
<g font-size="13" text-anchor="middle">
<text x="151" y="981" style="fill:#d33a3a">858</text><text x="262" y="981" style="fill:#d33a3a">484</text><text x="373" y="981" style="fill:#d33a3a">144</text>
<text x="516" y="981" style="fill:#d33a3a">421</text><text x="627" y="981" style="fill:#d33a3a">193</text><text x="737" y="981" style="fill:#d33a3a">151</text>
<text x="876" y="981" style="fill:#d33a3a">169</text><text x="987" y="981" style="fill:#d33a3a">118</text><text x="1097" y="981" style="fill:#d33a3a">181</text>
<text x="151" y="1061" style="fill:#55609a">678</text><text x="262" y="1061" style="fill:#55609a">230</text><text x="373" y="1061" style="fill:#55609a">238</text>
<text x="516" y="1061" style="fill:#55609a">339</text><text x="627" y="1061" style="fill:#55609a">210</text><text x="737" y="1061" style="fill:#55609a">336</text>
<text x="876" y="1061" style="fill:#55609a">133</text><text x="987" y="1061" style="fill:#55609a">77</text><text x="1097" y="1061" style="fill:#55609a">170</text>
</g>
<g font-size="12" class="tk" text-anchor="end">
<text x="58" y="995">5</text><text x="58" y="1008">1</text><text x="58" y="1019">0</text><text x="58" y="1029">−1</text><text x="58" y="1045">−5</text>
<text x="422" y="995">5</text><text x="422" y="1008">1</text><text x="422" y="1019">0</text><text x="422" y="1029">−1</text><text x="422" y="1045">−5</text>
<text x="783" y="995">5</text><text x="783" y="1008">1</text><text x="783" y="1019">0</text><text x="783" y="1029">−1</text><text x="783" y="1045">−5</text>
</g>
<g font-size="14" class="tk" text-anchor="middle">
<text x="68" y="1085">0</text><text x="94" y="1085">5</text><text x="120" y="1085">10</text><text x="146" y="1085">15</text>
<text x="178" y="1085">0</text><text x="204" y="1085">5</text><text x="230" y="1085">10</text><text x="256" y="1085">15</text>
<text x="289" y="1085">0</text><text x="315" y="1085">5</text><text x="341" y="1085">10</text><text x="367" y="1085">15</text>
<text x="432" y="1085">0</text><text x="458" y="1085">5</text><text x="484" y="1085">10</text><text x="510" y="1085">15</text>
<text x="542" y="1085">0</text><text x="568" y="1085">5</text><text x="594" y="1085">10</text><text x="620" y="1085">15</text>
<text x="653" y="1085">0</text><text x="679" y="1085">5</text><text x="705" y="1085">10</text><text x="731" y="1085">15</text>
<text x="793" y="1085">0</text><text x="819" y="1085">5</text><text x="845" y="1085">10</text><text x="871" y="1085">15</text>
<text x="903" y="1085">0</text><text x="929" y="1085">5</text><text x="955" y="1085">10</text><text x="981" y="1085">15</text>
<text x="1013" y="1085">0</text><text x="1039" y="1085">5</text><text x="1065" y="1085">10</text><text x="1091" y="1085">15</text>
</g>
<text x="593" y="1113" font-size="17" text-anchor="middle">Expression in <tspan class="it">ctrl</tspan> (log2RPKM) for corresponding allele</text>

<!-- ================= PANEL E ================= -->
<text x="2" y="1156" font-size="20" font-weight="bold">E</text>
<g fill="#fff" stroke="#222"><rect x="52" y="1162" width="21" height="121"/><rect x="52" y="1288" width="21" height="120"/>
<rect x="98" y="1431" width="120" height="22"/><rect x="223" y="1431" width="121" height="22"/></g>
<text transform="translate(68,1222) rotate(-90)" font-size="15" text-anchor="middle">CGI</text>
<text transform="translate(68,1348) rotate(-90)" font-size="15" text-anchor="middle">non−CGI</text>
<text x="158" y="1448" font-size="15" text-anchor="middle">maternal</text>
<text x="283" y="1448" font-size="15" text-anchor="middle">paternal</text>
<text transform="translate(43,1293) rotate(-90)" font-size="17" text-anchor="middle"><tspan class="it">Kdm2a</tspan><tspan class="it" font-size="10" dy="-7">KO</tspan><tspan class="it" dy="7">Kdm2b</tspan><tspan class="it" font-size="10" dy="-7">KO</tspan><tspan dy="7"> FGO (log2FC)</tspan></text>
<text x="209" y="1475" font-size="17" text-anchor="middle"><tspan class="it">Kdm2a</tspan><tspan class="it" font-size="10" dy="-7">matKO</tspan><tspan class="it" dy="7">Kdm2b</tspan><tspan class="it" font-size="10" dy="-7">matKO</tspan><tspan dy="7"> 2-cell (log2FC)</tspan></text>
<g class="grid">
<path d="M116 1162V1283M132.5 1162V1283M149 1162V1283M165.5 1162V1283M182 1162V1283M198.5 1162V1283M215 1162V1283M98 1166H218M98 1183H218M98 1199H218M98 1216H218M98 1232H218M98 1248H218M98 1264H218M98 1281H218"/>
<path d="M240 1162V1283M257 1162V1283M274 1162V1283M290 1162V1283M306 1162V1283M322 1162V1283M337 1162V1283M223 1166H344M223 1183H344M223 1199H344M223 1216H344M223 1232H344M223 1248H344M223 1264H344M223 1281H344"/>
<path d="M116 1288V1408M132.5 1288V1408M149 1288V1408M165.5 1288V1408M182 1288V1408M198.5 1288V1408M215 1288V1408M98 1292H218M98 1308H218M98 1325H218M98 1341H218M98 1357H218M98 1373H218M98 1390H218M98 1406H218"/>
<path d="M240 1288V1408M257 1288V1408M274 1288V1408M290 1288V1408M306 1288V1408M322 1288V1408M337 1288V1408M223 1292H344M223 1308H344M223 1325H344M223 1341H344M223 1357H344M223 1373H344M223 1390H344M223 1406H344"/>
</g>
<path d="M98 1283L218 1163M223 1283L344 1163M98 1408L218 1289M223 1408L344 1289" stroke="#c4c4c4" stroke-dasharray="3,3"/>
<ellipse cx="150" cy="1232" rx="40" ry="28" transform="rotate(-20 150 1232)" fill="url(#pE)"/>
<ellipse cx="270" cy="1232" rx="34" ry="30" fill="url(#pE)"/>
<ellipse cx="152" cy="1357" rx="35" ry="17" transform="rotate(-25 152 1357)" fill="url(#pE)"/>
<ellipse cx="268" cy="1357" rx="29" ry="16" fill="url(#pE)"/>
<g stroke="#888" stroke-width=".6">
<circle cx="178" cy="1173" r="2.4" fill="#fff"/><circle cx="147" cy="1266" r="2.4" fill="#fff"/><circle cx="146" cy="1272" r="2.4" fill="#eee"/>
<circle cx="274" cy="1272" r="2.4" fill="#fff"/><circle cx="298" cy="1210" r="2.4" fill="#fff"/>
<circle cx="191" cy="1308" r="2.4" fill="#7b2233"/><circle cx="107" cy="1335" r="2.4" fill="#999"/><circle cx="191" cy="1346" r="2.4" fill="#7b2233"/><circle cx="190" cy="1337" r="2.4" fill="#c9999f"/>
<circle cx="284" cy="1308" r="2.4" fill="#7b2233"/><circle cx="303" cy="1358" r="2.4" fill="#fff"/><circle cx="310" cy="1358" r="2.4" fill="#fff"/><circle cx="316" cy="1358" r="2.4" fill="#fff"/><circle cx="334" cy="1358" r="2.4" fill="#fff"/>
</g>
<g fill="none" stroke="#8a8a8a" stroke-width="1.2">
<rect x="98" y="1162" width="120" height="121"/><rect x="223" y="1162" width="121" height="121"/>
<rect x="98" y="1288" width="120" height="120"/><rect x="223" y="1288" width="121" height="120"/>
</g>
<g font-size="16" class="it">
<text x="104" y="1186">R = 0.252</text><text x="229" y="1186">R = 0.003</text>
<text x="104" y="1312">R = 0.272</text><text x="229" y="1312">R = 0.063</text>
</g>
<g font-size="14" class="tk" text-anchor="end">
<text x="93" y="1171">10</text><text x="93" y="1204">5</text><text x="93" y="1237">0</text><text x="93" y="1269">−5</text>
<text x="93" y="1297">10</text><text x="93" y="1330">5</text><text x="93" y="1362">0</text><text x="93" y="1395">−5</text>
<text x="493" y="1171">10</text><text x="493" y="1204">5</text><text x="493" y="1237">0</text><text x="493" y="1269">−5</text>
<text x="493" y="1297">10</text><text x="493" y="1330">5</text><text x="493" y="1362">0</text><text x="493" y="1395">−5</text>
</g>
<g font-size="14" class="tk" text-anchor="middle">
<text x="116" y="1425">−5</text><text x="149" y="1425">0</text><text x="182" y="1425">5</text><text x="212" y="1425">10</text>
<text x="240" y="1425">−5</text><text x="274" y="1425">0</text><text x="306" y="1425">5</text><text x="337" y="1425">10</text>
<text x="516" y="1425">−5</text><text x="550" y="1425">0</text><text x="582" y="1425">5</text><text x="611" y="1425">10</text>
<text x="644" y="1425">−5</text><text x="678" y="1425">0</text><text x="709" y="1425">5</text><text x="739" y="1425">10</text>
</g>

<g fill="#fff" stroke="#222"><rect x="451" y="1162" width="23" height="121"/><rect x="451" y="1289" width="23" height="120"/>
<rect x="498" y="1430" width="120" height="23"/><rect x="624" y="1430" width="120" height="23"/></g>
<text transform="translate(468,1222) rotate(-90)" font-size="15" text-anchor="middle">CGI</text>
<text transform="translate(468,1349) rotate(-90)" font-size="15" text-anchor="middle">non−CGI</text>
<text x="558" y="1447" font-size="15" text-anchor="middle">maternal</text>
<text x="684" y="1447" font-size="15" text-anchor="middle">paternal</text>
<text transform="translate(444,1300) rotate(-90)" font-size="17" text-anchor="middle"><tspan class="it">Kdm2a</tspan><tspan class="it" font-size="10" dy="-7">KO</tspan><tspan class="it" dy="7">Kdm2b</tspan><tspan class="it" font-size="10" dy="-7">ΔCxxC</tspan><tspan dy="7"> FGO (log2FC)</tspan></text>
<text x="610" y="1474" font-size="17" text-anchor="middle"><tspan class="it">Kdm2a</tspan><tspan class="it" font-size="10" dy="-7">matKO</tspan><tspan class="it" dy="7">Kdm2b</tspan><tspan class="it" font-size="10" dy="-7">matΔCxxC</tspan><tspan dy="7"> 2-cell (log2FC)</tspan></text>
<g class="grid">
<path d="M516 1162V1283M533 1162V1283M550 1162V1283M566 1162V1283M582 1162V1283M597 1162V1283M611 1162V1283M498 1166H618M498 1183H618M498 1199H618M498 1216H618M498 1232H618M498 1248H618M498 1264H618M498 1281H618"/>
<path d="M644 1162V1283M661 1162V1283M678 1162V1283M694 1162V1283M709 1162V1283M724 1162V1283M739 1162V1283M624 1166H744M624 1183H744M624 1199H744M624 1216H744M624 1232H744M624 1248H744M624 1264H744M624 1281H744"/>
<path d="M516 1289V1409M533 1289V1409M550 1289V1409M566 1289V1409M582 1289V1409M597 1289V1409M611 1289V1409M498 1292H618M498 1308H618M498 1325H618M498 1341H618M498 1357H618M498 1373H618M498 1390H618M498 1406H618"/>
<path d="M644 1289V1409M661 1289V1409M678 1289V1409M694 1289V1409M709 1289V1409M724 1289V1409M739 1289V1409M624 1292H744M624 1308H744M624 1325H744M624 1341H744M624 1357H744M624 1373H744M624 1390H744M624 1406H744"/>
</g>
<path d="M500 1281L616 1164M626 1281L742 1164M500 1407L616 1291M626 1407L742 1291" stroke="#cfcfcf" stroke-width="2.5" stroke-dasharray="8,10"/>
<ellipse cx="553" cy="1228" rx="26" ry="32" transform="rotate(-15 553 1228)" fill="url(#pE)"/>
<ellipse cx="675" cy="1228" rx="27" ry="32" fill="url(#pE)"/>
<ellipse cx="555" cy="1350" rx="23" ry="26" transform="rotate(-20 555 1350)" fill="url(#pE)"/>
<ellipse cx="678" cy="1352" rx="23" ry="26" fill="url(#pE)"/>
<g stroke="#888" stroke-width=".6">
<circle cx="579" cy="1167" r="2.3" fill="#fff"/><circle cx="573" cy="1297" r="2.3" fill="#7b2233"/><circle cx="550" cy="1313" r="2.3" fill="#7b2233"/><circle cx="542" cy="1406" r="2.3" fill="#c9999f"/>
<circle cx="660" cy="1337" r="2.3" fill="#7b2233"/><circle cx="645" cy="1353" r="2.3" fill="#c9999f"/><circle cx="673" cy="1406" r="2.3" fill="#c9999f"/><circle cx="646" cy="1240" r="2.3" fill="#fff"/>
</g>
<g fill="none" stroke="#666" stroke-width="1.2">
<rect x="498" y="1162" width="120" height="121"/><rect x="624" y="1162" width="120" height="121"/>
<rect x="498" y="1289" width="120" height="120"/><rect x="624" y="1289" width="120" height="120"/>
</g>
<g font-size="16" class="it">
<text x="505" y="1186">R = 0.32</text><text x="631" y="1186">R = 0.01</text>
<text x="505" y="1312">R = 0.45</text><text x="631" y="1312">R = 0.06</text>
</g>

<rect x="800" y="1231" width="18" height="144" fill="url(#cbar)"/>
<path d="M800 1276H804M814 1276H818M800 1321H804M814 1321H818M800 1366H804M814 1366H818" stroke="#fff"/>
<text transform="translate(791,1302) rotate(-90)" font-size="14" text-anchor="middle">Promoter delta DNAme (%)</text>
<g font-size="14">
<text x="823" y="1235">100%</text><text x="823" y="1281">50%</text><text x="823" y="1326">0%</text><text x="823" y="1371">−50%</text>
</g>

<text x="726" y="1446" font-size="33" style="fill:#d4d4d4;font-family:'Liberation Sans','Noto Sans CJK SC',sans-serif" opacity="0.85">知乎 @深圳市易基因科技</text>
</svg>
</body></html>
